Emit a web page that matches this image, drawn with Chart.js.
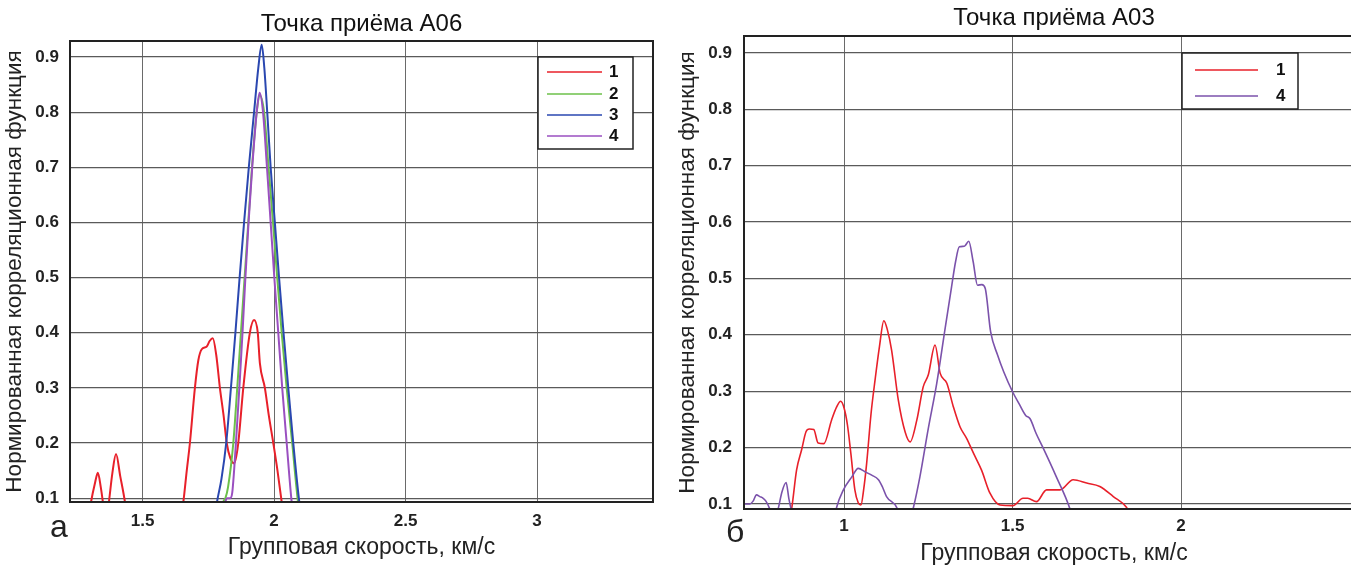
<!DOCTYPE html>
<html><head><meta charset="utf-8">
<script src="https://cdn.jsdelivr.net/npm/chart.js@4.4.1/dist/chart.umd.min.js"></script>
<style>
html,body{margin:0;padding:0;background:#fff;overflow:hidden;width:1351px;height:567px;}
#wrap{position:relative;width:1351px;height:567px;overflow:hidden;background:#fff;}
canvas{position:absolute;top:0;}
#cA{left:0;} #cB{left:672px;}
.tag{position:absolute;font-family:'Liberation Sans',Arial,sans-serif;font-size:32px;line-height:32px;color:#222;}
</style></head><body>
<div id="wrap">
<canvas id="cA" width="675" height="567"></canvas>
<canvas id="cB" width="692" height="567"></canvas>
<div class="tag" style="left:50px;top:510px">а</div>
<div class="tag" style="left:726px;top:515px">б</div>
</div>
<script>
// ---- texts ----
const A_TITLE = 'Точка приёма A06';
const B_TITLE = 'Точка приёма A03';
const X_LABEL = 'Групповая скорость, км/с';
const Y_LABEL = 'Нормированная корреляционная функция';

// ---- tick values ----
const A_X_TICKS = [1.5, 2, 2.5, 3];
const B_X_TICKS = [1, 1.5, 2];
const Y_TICKS = [0.1, 0.2, 0.3, 0.4, 0.5, 0.6, 0.7, 0.8, 0.9];

// ---- panel а (A06): series 1..4 ----
const A_NAMES = ['1', '2', '3', '4'];
const A1_X = [1.290,1.304,1.318,1.330,1.341,1.349,1.360,1.372,1.385,1.399,1.415,1.433,1.445,1.640,1.655,1.668,1.680,1.699,1.712,1.725,1.744,1.755,1.767,1.780,1.794,1.808,1.820,1.834,1.848,1.856,1.864,1.883,1.908,1.924,1.938,1.946,1.965,1.980,1.997,2.013,2.029,2.040];
const A1_Y = [0.05,0.093,0.125,0.146,0.120,0.093,0.05,0.093,0.145,0.180,0.140,0.093,0.05,0.05,0.093,0.150,0.200,0.300,0.350,0.370,0.375,0.385,0.390,0.360,0.300,0.250,0.200,0.172,0.163,0.175,0.200,0.300,0.400,0.423,0.400,0.345,0.300,0.250,0.200,0.150,0.093,0.05];
const A2_X = [1.795,1.807,1.815,1.825,1.845,1.860,1.874,1.888,1.902,1.916,1.934,1.946,1.962,1.979,1.996,2.012,2.029,2.048,2.069,2.091,2.105];
const A2_Y = [0.05,0.093,0.100,0.120,0.200,0.300,0.400,0.500,0.600,0.700,0.800,0.830,0.800,0.700,0.600,0.500,0.400,0.300,0.200,0.093,0.05];
const A3_X = [1.770,1.783,1.800,1.818,1.836,1.853,1.869,1.886,1.904,1.924,1.940,1.953,1.963,1.974,1.987,2.003,2.019,2.036,2.054,2.073,2.096,2.110];
const A3_Y = [0.05,0.093,0.135,0.200,0.300,0.400,0.500,0.600,0.700,0.800,0.880,0.922,0.880,0.800,0.700,0.600,0.500,0.400,0.300,0.200,0.093,0.05];
const A4_X = [1.805,1.815,1.822,1.833,1.841,1.848,1.855,1.868,1.880,1.891,1.903,1.917,1.934,1.945,1.958,1.973,1.987,2.001,2.016,2.031,2.048,2.067,2.080];
const A4_Y = [0.05,0.093,0.100,0.100,0.110,0.150,0.200,0.300,0.400,0.500,0.600,0.700,0.800,0.835,0.800,0.700,0.600,0.500,0.400,0.300,0.200,0.093,0.05];

// ---- panel б (A03): series 1 and 4 ----
const B_NAMES = ['1', '4'];
const B1_X = [0.830,0.845,0.859,0.874,0.887,0.897,0.910,0.923,0.940,0.963,0.978,0.990,1.000,1.010,1.020,1.032,1.042,1.050,1.058,1.067,1.080,1.092,1.105,1.118,1.128,1.141,1.161,1.181,1.196,1.216,1.235,1.250,1.270,1.285,1.305,1.324,1.344,1.364,1.384,1.408,1.433,1.463,1.501,1.531,1.545,1.571,1.601,1.641,1.680,1.720,1.759,1.799,1.838,1.850];
const B1_Y = [0.05,0.094,0.160,0.196,0.228,0.233,0.232,0.208,0.207,0.249,0.272,0.282,0.270,0.240,0.190,0.125,0.102,0.098,0.125,0.172,0.260,0.320,0.379,0.425,0.410,0.373,0.284,0.228,0.210,0.249,0.308,0.329,0.382,0.332,0.314,0.273,0.237,0.216,0.190,0.160,0.119,0.098,0.097,0.110,0.110,0.104,0.125,0.125,0.143,0.137,0.131,0.113,0.094,0.08];
const B4_X = [0.703,0.720,0.730,0.740,0.750,0.760,0.768,0.778,0.790,0.805,0.815,0.828,0.836,0.842,0.850,0.970,0.978,0.998,1.023,1.042,1.062,1.082,1.102,1.114,1.126,1.156,1.170,1.195,1.206,1.225,1.250,1.275,1.299,1.319,1.331,1.342,1.357,1.370,1.383,1.396,1.409,1.419,1.435,1.455,1.474,1.500,1.520,1.539,1.552,1.570,1.591,1.630,1.671,1.680];
const B4_Y = [0.100,0.100,0.105,0.116,0.113,0.110,0.105,0.093,0.070,0.093,0.120,0.138,0.110,0.093,0.070,0.070,0.094,0.125,0.148,0.163,0.157,0.151,0.143,0.130,0.113,0.094,0.070,0.070,0.094,0.148,0.234,0.314,0.408,0.485,0.530,0.556,0.557,0.566,0.530,0.488,0.489,0.482,0.405,0.365,0.334,0.299,0.277,0.257,0.251,0.225,0.199,0.148,0.090,0.070];

const pts = (xs, ys) => xs.map((x, i) => ({ x: x, y: ys[i] }));
const FONT = "'Liberation Sans', Arial, Helvetica, sans-serif";
Chart.defaults.font.family = FONT;

const framePlugin = {
  id: 'frame',
  afterDatasetsDraw(chart) {
    const { ctx, chartArea: a } = chart;
    ctx.save();
    ctx.strokeStyle = '#222';
    ctx.lineWidth = 2;
    ctx.strokeRect(a.left, a.top, a.right - a.left, a.bottom - a.top);
    ctx.restore();
  }
};
const boxLegend = {
  id: 'boxLegend',
  afterDraw(chart, args, o) {
    const ctx = chart.ctx;
    const b = o.box;
    ctx.save();
    ctx.fillStyle = '#fff';
    ctx.fillRect(b[0], b[1], b[2] - b[0], b[3] - b[1]);
    ctx.strokeStyle = '#222';
    ctx.lineWidth = 1.5;
    ctx.strokeRect(b[0], b[1], b[2] - b[0], b[3] - b[1]);
    chart.data.datasets.forEach((ds, i) => {
      const y = o.rows[i];
      ctx.strokeStyle = ds.borderColor;
      ctx.lineWidth = 1.5;
      ctx.beginPath();
      ctx.moveTo(o.line[0], y);
      ctx.lineTo(o.line[1], y);
      ctx.stroke();
      ctx.fillStyle = '#111';
      ctx.font = 'bold 17px ' + FONT;
      ctx.textBaseline = 'middle';
      ctx.textAlign = 'left';
      ctx.fillText(ds.label, o.textX, y);
    });
    ctx.restore();
  }
};

function makeChart(id, datasets, o) {
  return new Chart(document.getElementById(id), {
    type: 'line',
    data: { datasets: datasets },
    options: {
      responsive: false,
      animation: false,
      events: [],
      layout: { padding: { left: 0, right: o.padRight, top: 0, bottom: 0 } },
      elements: { point: { radius: 0 }, line: { cubicInterpolationMode: 'monotone' } },
      plugins: {
        legend: { display: false },
        tooltip: { enabled: false },
        title: {
          display: true, text: o.title, fullSize: false, color: '#111',
          font: { size: 24, weight: 'normal' },
          padding: { top: o.titleTop, bottom: o.titleBottom }
        },
        boxLegend: o.legend
      },
      scales: {
        x: {
          type: 'linear', min: o.xMin, max: o.xMax,
          afterBuildTicks: s => { s.ticks = o.xTicks.map(v => ({ value: v })); },
          afterFit: s => { s.height = o.xH; },
          ticks: { font: { size: 17, weight: 'bold' }, color: '#222', padding: o.xPad, maxRotation: 0, autoSkip: false, callback: v => String(v) },
          grid: { color: '#6a6a6a', lineWidth: 1, drawTicks: false },
          border: { display: false },
          title: { display: true, text: X_LABEL, color: '#222', font: { size: 23 }, padding: { top: 0, bottom: o.xTitleBottom } }
        },
        y: {
          type: 'linear', min: o.yMin, max: o.yMax,
          afterBuildTicks: s => { s.ticks = Y_TICKS.map(v => ({ value: v })); },
          afterFit: s => { s.width = o.yW; },
          ticks: { font: { size: 17, weight: 'bold' }, color: '#222', padding: o.yPad, autoSkip: false, callback: v => String(v) },
          grid: { color: '#5a5a5a', lineWidth: 1.2, drawTicks: false },
          border: { display: false },
          title: { display: true, text: Y_LABEL, color: '#222', font: { size: 22.5 }, padding: { top: o.yTitleTop, bottom: 0 } }
        }
      }
    },
    plugins: [framePlugin, boxLegend]
  });
}

const COL = { red: '#e8202a', green: '#6cc04a', blue: '#2a47b0', purple: '#9a4fc0', purpleB: '#7b52ab' };

makeChart('cA', [
  { label: A_NAMES[0], data: pts(A1_X, A1_Y), borderColor: COL.red, borderWidth: 2, order: 3, clip: 0 },
  { label: A_NAMES[1], data: pts(A2_X, A2_Y), borderColor: COL.green, borderWidth: 2, order: 2, clip: 0 },
  { label: A_NAMES[2], data: pts(A3_X, A3_Y), borderColor: COL.blue, borderWidth: 2, order: 1, clip: 0 },
  { label: A_NAMES[3], data: pts(A4_X, A4_Y), borderColor: COL.purple, borderWidth: 2, order: 0, clip: 0 }
], {
  title: A_TITLE, titleTop: 9.6, titleBottom: 2.6, padRight: 22,
  xMin: 1.224, xMax: 3.441, yMin: 0.093, yMax: 0.929,
  xTicks: A_X_TICKS, xH: 65, xPad: 9, xTitleBottom: 6,
  yW: 70, yPad: 11, yTitleTop: 1,
  legend: { box: [538, 57, 633, 149], line: [547, 602], textX: 609, rows: [72, 94, 115, 136] }
});

makeChart('cB', [
  { label: B_NAMES[0], data: pts(B1_X, B1_Y), borderColor: COL.red, borderWidth: 1.6, order: 1, clip: 0 },
  { label: B_NAMES[1], data: pts(B4_X, B4_Y), borderColor: COL.purpleB, borderWidth: 1.6, order: 0, clip: 0 }
], {
  title: B_TITLE, titleTop: 4.1, titleBottom: 3.1, padRight: 0,
  xMin: 0.703, xMax: 2.543, yMin: 0.091, yMax: 0.930,
  xTicks: B_X_TICKS, xH: 58, xPad: 7.5, xTitleBottom: 0,
  yW: 72, yPad: 12, yTitleTop: 2.5,
  legend: { box: [510, 53, 626, 109], line: [523, 586], textX: 604, rows: [70, 96] }
});
</script>
</body></html>
